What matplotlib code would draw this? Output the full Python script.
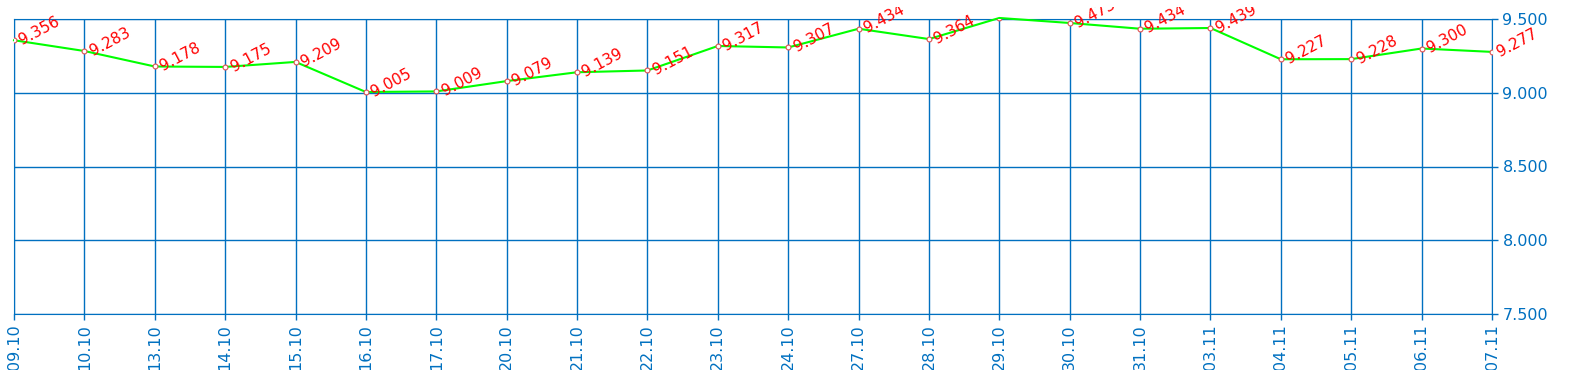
import matplotlib.pyplot as plt
from matplotlib.transforms import Bbox

dates = ['09.10', '10.10', '13.10', '14.10', '15.10', '16.10', '17.10', '20.10',
         '21.10', '22.10', '23.10', '24.10', '27.10', '28.10', '29.10', '30.10',
         '31.10', '03.11', '04.11', '05.11', '06.11', '07.11']
values = [9.356, 9.283, 9.178, 9.175, 9.209, 9.005, 9.009, 9.079, 9.139, 9.151,
          9.317, 9.307, 9.434, 9.364, 9.507, 9.473, 9.434, 9.439, 9.227, 9.228,
          9.300, 9.277]
yticks = [7.5, 8.0, 8.5, 9.0, 9.5]

blue = '#0070c0'

fig = plt.figure(figsize=(15.7, 3.7), dpi=100)
ax = fig.add_axes([14 / 1570, 56 / 370, 1478 / 1570, 295 / 370])

x = list(range(len(dates)))
ax.plot(x, values, color='#00ff00', lw=1.5, zorder=3, clip_on=False)
ax.plot(x, values, ls='none', marker='o', ms=3.5, mfc='white', mec='#e05050',
        mew=0.8, zorder=4)

# labels are cut a few pixels below the top edge, as in the original
clip = Bbox.from_extents(0, 0, 1570, 363)
for i, v in enumerate(values):
    if i == 14:
        continue  # label hidden above the top in the reference
    t = ax.annotate(f'{v:.3f}', (i, v), xytext=(4.5, -0.5), textcoords='offset points',
                    rotation=28, rotation_mode='anchor', ha='left', va='center',
                    color='red', fontsize=11, annotation_clip=False, zorder=5)
    t.set_clip_box(clip)
    t.set_clip_on(True)

ax.set_xlim(0, len(dates) - 1)
ax.set_ylim(7.5, 9.5)
ax.set_xticks(x)
ax.set_xticklabels(dates, rotation=90)
ax.set_yticks(yticks)
ax.set_yticklabels([f'{t:.3f}' for t in yticks])
ax.yaxis.tick_right()
ax.tick_params(colors=blue, labelcolor=blue, labelsize=11.5, length=4, width=1)
ax.grid(True, color=blue, lw=1)
for s in ax.spines.values():
    s.set_color(blue)
ax.set_axisbelow(True)

fig.savefig('out.png', dpi=100)
